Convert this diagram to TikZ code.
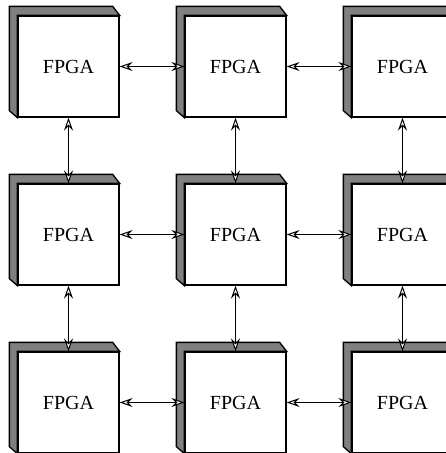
\documentclass[tikz,border=0pt]{standalone}
\usepackage{fontspec}
\setmainfont{Liberation Serif}
\usetikzlibrary{arrows.meta,calc}
\definecolor{sidegray}{gray}{0.5}
\begin{document}
\begin{tikzpicture}[x=1pt,y=-1pt,
  fpga/.style={draw, line width=1.3pt, fill=white, minimum width=101pt,
    minimum height=101pt, inner sep=0pt, font=\fontsize{20}{24}\selectfont},
  side/.style={draw, fill=sidegray, line width=1.3pt, line join=miter},
  tip/.tip={Stealth[open, fill=white, length=13pt, width=9pt, inset=4.5pt, line width=1pt]},
  link/.style={line width=1.1pt, {tip}-{tip}}]
\useasboundingbox (0,0) rectangle (446,453);
\clip (0,0) rectangle (446,453);
% 3x3 grid of boards, each with a raised grey edge on the top and left
\foreach \r in {0,1,2} {
  \foreach \c in {0,1,2} {
    \node[fpga] (b\r\c) at (68.5+167*\c, 66.5+168*\r) {\raisebox{-2pt}{FPGA}};
    \draw[side] ($(b\r\c.north west)+(-8,-9)$) -- ($(b\r\c.north east)+(-7,-9)$)
      -- (b\r\c.north east) -- (b\r\c.north west) -- (b\r\c.south west)
      -- ($(b\r\c.south west)+(-8,-7)$) -- cycle;
  }
}
% horizontal links
\foreach \r in {0,1,2} {
  \draw[link] (b\r0.east) -- (b\r1.west);
  \draw[link] (b\r1.east) -- (b\r2.west);
}
% vertical links
\foreach \c in {0,1,2} {
  \draw[link] (b0\c.south) -- (b1\c.north);
  \draw[link] (b1\c.south) -- (b2\c.north);
}
\end{tikzpicture}
\end{document}
